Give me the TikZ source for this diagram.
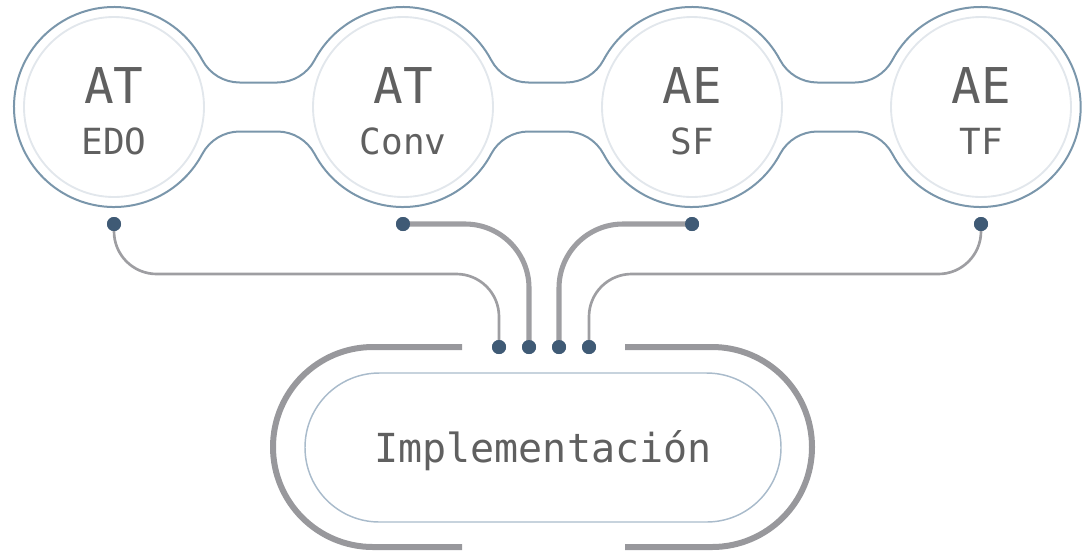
\documentclass[tikz,border=0pt]{standalone}
\usepackage{fontspec}
\setmonofont{DejaVu Sans Mono}

\definecolor{contour}{HTML}{7A96AB}
\definecolor{anneau}{HTML}{E2E7EC}
\definecolor{piste}{HTML}{9E9EA2}
\definecolor{cadre}{HTML}{98989C}
\definecolor{capsule}{HTML}{A9BBCB}
\definecolor{borne}{HTML}{3F5A75}
\definecolor{texte}{HTML}{606060}

\tikzset{
  etape/.style={circle, draw=anneau, line width=1.4pt, minimum size=135pt, inner sep=0pt},
  haut/.style={font=\ttfamily\fontsize{37}{37}\selectfont, text=texte, anchor=base, inner sep=0pt},
  bas/.style={font=\ttfamily\fontsize{27}{27}\selectfont, text=texte, anchor=base, inner sep=0pt},
  pin/.style={circle, fill=borne, minimum size=10.5pt, inner sep=0pt},
  fil/.style={draw=piste, line width=2pt, rounded corners=32pt},
  bus/.style={draw=piste, line width=3.8pt, rounded corners=48pt},
}

\begin{document}
\begin{tikzpicture}[x=0.75pt, y=0.75pt, line join=round]
  \useasboundingbox (0,0) rectangle (1084,-551);

  % Centres des quatre cercles (pas de 289)
  \coordinate (C1) at (114,-107);
  \coordinate (C2) at (403,-107);
  \coordinate (C3) at (692,-107);
  \coordinate (C4) at (981,-107);

  % Contour extérieur : cercles R=100, congés r=42.3, col plat de 37.6
  \draw[contour, line width=1.5pt]
    ([shift={(28:100)}]C1)
      arc[start angle=28, end angle=332, radius=100]
      arc[start angle=152, end angle=90, radius=42.3] -- ++(37.6,0)
      arc[start angle=90, end angle=28, radius=42.3]
      arc[start angle=208, end angle=332, radius=100]
      arc[start angle=152, end angle=90, radius=42.3] -- ++(37.6,0)
      arc[start angle=90, end angle=28, radius=42.3]
      arc[start angle=208, end angle=332, radius=100]
      arc[start angle=152, end angle=90, radius=42.3] -- ++(37.6,0)
      arc[start angle=90, end angle=28, radius=42.3]
      arc[start angle=208, end angle=512, radius=100]
      arc[start angle=332, end angle=270, radius=42.3] -- ++(-37.6,0)
      arc[start angle=270, end angle=208, radius=42.3]
      arc[start angle=28, end angle=152, radius=100]
      arc[start angle=332, end angle=270, radius=42.3] -- ++(-37.6,0)
      arc[start angle=270, end angle=208, radius=42.3]
      arc[start angle=28, end angle=152, radius=100]
      arc[start angle=332, end angle=270, radius=42.3] -- ++(-37.6,0)
      arc[start angle=270, end angle=208, radius=42.3]
    -- cycle;

  % Cercles intérieurs
  \node[etape] (edo) at (C1) {};
  \node[etape] (conv) at (C2) {};
  \node[etape] (sf) at (C3) {};
  \node[etape] (tf) at (C4) {};

  % Étiquettes
  \node[haut] (edo-a) at (C1 |- 0,-103) {AT};
  \node[bas] (edo-b) at (C1 |- 0,-154) {EDO};
  \node[haut] (conv-a) at (C2 |- 0,-103) {AT};
  \node[bas] (conv-b) at (C2 |- 0,-154) {Conv};
  \node[haut] (sf-a) at (C3 |- 0,-103) {AE};
  \node[bas] (sf-b) at (C3 |- 0,-154) {SF};
  \node[haut] (tf-a) at (C4 |- 0,-103) {AE};
  \node[bas] (tf-b) at (C4 |- 0,-154) {TF};

  % Bloc du bas
  \node[draw=capsule, line width=1.1pt, minimum width=357pt, minimum height=111.75pt,
        rounded corners=55.8pt, inner sep=0pt] (impl) at (543,-447.5) {};
  \node[font=\ttfamily\fontsize{30}{30}\selectfont, text=texte, anchor=base, inner sep=0pt]
    (impl-t) at (543,-462) {Implementación};

  % Cadre épais ouvert en haut et en bas
  \draw[cadre, line width=4.5pt] (462,-347) -- (373,-347)
    arc[start angle=90, end angle=270, radius=100] -- (462,-547);
  \draw[cadre, line width=4.5pt] (625,-347) -- (712,-347)
    arc[start angle=90, end angle=-90, radius=100] -- (625,-547);

  % Bornes
  \node[pin] (p1) at (114,-224) {};
  \node[pin] (p2) at (403,-224) {};
  \node[pin] (p3) at (692,-224) {};
  \node[pin] (p4) at (981,-224) {};
  \node[pin] (q1) at (499,-347) {};
  \node[pin] (q2) at (529,-347) {};
  \node[pin] (q3) at (559,-347) {};
  \node[pin] (q4) at (589,-347) {};

  % Pistes
  \path[fil] (p1.center) -- (p1 |- 0,-274) -- (q1 |- 0,-274) -- (q1.center);
  \path[bus] (p2.center) -- (q2 |- p2) -- (q2.center);
  \path[bus] (p3.center) -- (q3 |- p3) -- (q3.center);
  \path[fil] (p4.center) -- (p4 |- 0,-274) -- (q4 |- 0,-274) -- (q4.center);

  % Bornes par-dessus les pistes
  \foreach \b in {p1,p2,p3,p4,q1,q2,q3,q4}
    \fill[borne] (\b) circle[radius=7];
\end{tikzpicture}
\end{document}
